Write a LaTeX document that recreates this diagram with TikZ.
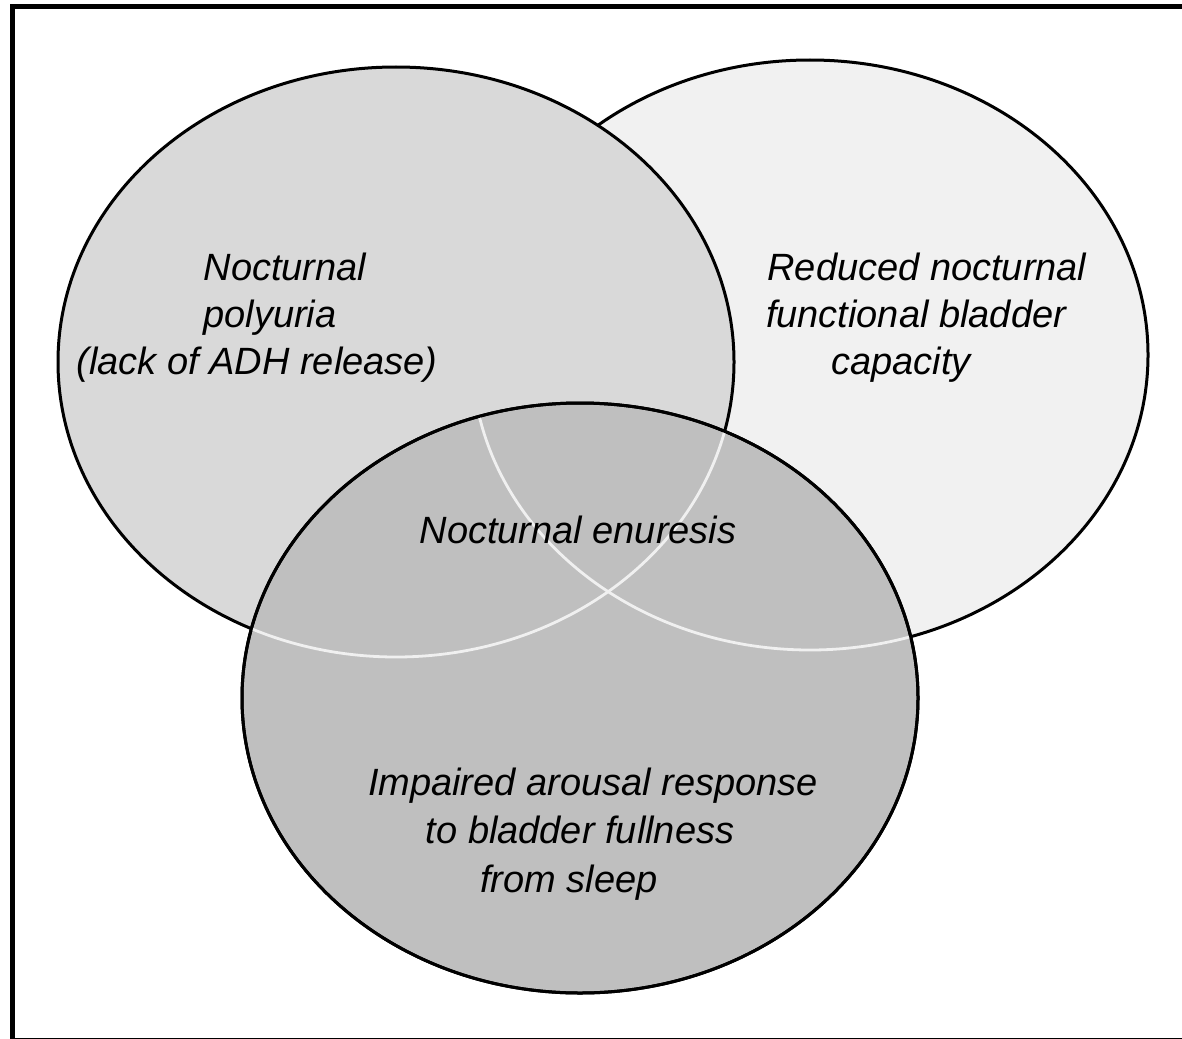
\documentclass[tikz,border=0pt]{standalone}
\usepackage{fontspec}
\setmainfont{Liberation Sans}
\usepackage{tikz}

\definecolor{polyfill}{gray}{0.85}
\definecolor{bladfill}{gray}{0.945}
\definecolor{aroufill}{gray}{0.75}
\definecolor{seam}{gray}{0.94}

\tikzset{
  venn/.style={draw=black, line width=1.5pt},
  seamline/.style={draw=seam, line width=1.4pt},
  venntext/.style={font=\fontsize{19}{23}\selectfont\itshape, inner sep=0pt, anchor=base},
}

\begin{document}
\begin{tikzpicture}[x=0.5pt,y=-0.5pt]
\useasboundingbox (0,0) rectangle (1182,1038);
% frame
\draw [black, line width=2.25pt] (12.5,6.5) rectangle (1192,1040.5);
% centres of the three sets
\coordinate (pc) at (396,362);
\coordinate (bc) at (810,355);
\coordinate (ac) at (580,698);
% sets
\filldraw [venn, fill=bladfill] (bc) ellipse [x radius=338, y radius=295];
\filldraw [venn, fill=polyfill] (pc) ellipse [x radius=338, y radius=295];
\filldraw [venn, fill=aroufill] (ac) ellipse [x radius=338, y radius=295];
% light seams inside the lower set
\begin{scope}
\clip (ac) ellipse [x radius=338, y radius=295];
\draw [seamline] (pc) ellipse [x radius=338, y radius=295];
\draw [seamline] (bc) ellipse [x radius=338, y radius=295];
\end{scope}
\draw [venn] (ac) ellipse [x radius=338, y radius=295];
% labels
\node [venntext] (poly1) at (285,280) {Nocturnal};
\node [venntext] (poly2) at (270,327) {polyuria};
\node [venntext] (poly3) at (257,374) {(lack of ADH release)};
\node [venntext] (blad1) at (927,280) {Reduced nocturnal};
\node [venntext] (blad2) at (916,327) {functional bladder};
\node [venntext] (blad3) at (901,374) {capacity};
\node [venntext] (enur) at (578,543) {Nocturnal enuresis};
\node [venntext] (arou1) at (593,795) {Impaired arousal response};
\node [venntext] (arou2) at (580,843) {to bladder fullness};
\node [venntext] (arou3) at (569,892) {from sleep};
\end{tikzpicture}
\end{document}
